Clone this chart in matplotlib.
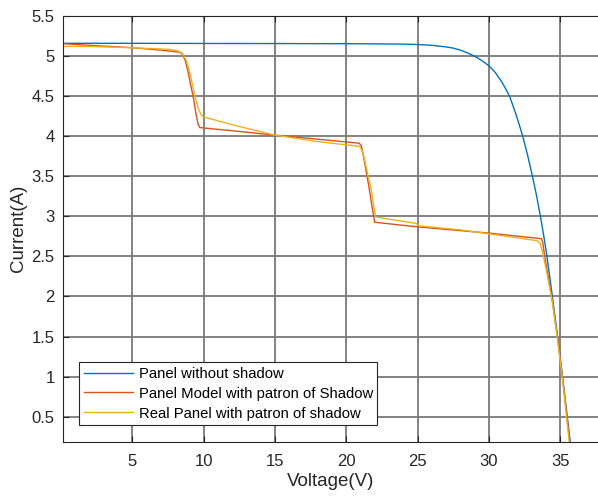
import matplotlib
matplotlib.use("Agg")
import matplotlib.pyplot as plt

plt.rcParams['font.family'] = ['Liberation Sans', 'DejaVu Sans']

# Panel without shadow
v_clear = [0.13, 5, 10, 15, 20, 22, 24, 25, 26, 27, 27.5, 28, 28.5, 29, 29.5, 30,
           30.45, 30.88, 31.2, 31.46, 31.9, 32.35, 32.7, 33.05, 33.33, 33.61, 33.84,
           34.07, 34.45, 34.82, 35.26, 35.7, 35.85]
i_clear = [5.155, 5.155, 5.153, 5.152, 5.15, 5.148, 5.145, 5.14, 5.13, 5.11, 5.095,
           5.07, 5.035, 4.995, 4.94, 4.875, 4.79, 4.68, 4.58, 4.49, 4.27, 4.01, 3.77,
           3.50, 3.265, 3.00, 2.76, 2.50, 2.0, 1.49, 0.85, 0.19, 0.0]

# Panel model with shadow pattern
v_model = [0.13, 2, 5, 7, 8.0, 8.3, 8.5, 8.7, 8.9, 9.1, 9.25, 9.45, 9.6, 9.72, 12,
           15, 18, 20.9, 21.05, 21.2, 21.4, 21.6, 21.8, 21.99, 25, 28, 30, 33.68,
           33.78, 33.91, 34.4, 34.82, 35.2, 35.67, 35.8]
i_model = [5.15, 5.13, 5.10, 5.07, 5.05, 5.045, 5.02, 4.94, 4.80, 4.62, 4.50, 4.28,
           4.15, 4.105, 4.065, 4.01, 3.96, 3.91, 3.88, 3.75, 3.55, 3.35, 3.12, 2.925,
           2.867, 2.82, 2.79, 2.72, 2.67, 2.50, 2.00, 1.49, 0.93, 0.19, 0.0]

# Real panel with shadow pattern
v_real = [0.13, 2, 5, 7.6, 8.2, 8.5, 8.8, 9.0, 9.2, 9.37, 9.6, 9.8, 9.95, 12, 15, 18,
          20.94, 21.15, 21.35, 21.55, 21.76, 21.9, 22.06, 24.9, 25.1, 28, 30, 33.4,
          33.6, 33.8, 34.1, 34.45, 34.82, 35.2, 35.63, 35.8]
i_real = [5.117, 5.115, 5.10, 5.08, 5.06, 5.03, 4.93, 4.80, 4.65, 4.50, 4.35, 4.27,
          4.24, 4.14, 4.01, 3.93, 3.87, 3.80, 3.65, 3.48, 3.33, 3.15, 2.99, 2.91,
          2.88, 2.83, 2.78, 2.695, 2.66, 2.52, 2.26, 1.93, 1.45, 0.9, 0.19, 0.0]

labels = ["Panel without shadow", "Panel Model with patron of Shadow",
          "Real Panel with patron of shadow"]
xticks = [5, 10, 15, 20, 25, 30, 35]
yticks = [0.5, 1, 1.5, 2, 2.5, 3, 3.5, 4, 4.5, 5, 5.5]

fig = plt.figure(figsize=(5.98, 4.96), dpi=100)
ax = fig.add_axes([0.1054, 0.1095, 0.8946, 0.8590])

ax.plot(v_clear, i_clear, color='#0072BD', lw=1.0, label=labels[0])
ax.plot(v_model, i_model, color='#D95319', lw=1.0, label=labels[1])
ax.plot(v_real, i_real, color='#EDB120', lw=1.0, label=labels[2])

ax.set_xlim(0.13, 37.65)
ax.set_ylim(0.19, 5.5)
ax.set_xticks(xticks)
ax.set_xticklabels([str(t) for t in xticks])
ax.set_yticks(yticks)
ax.set_yticklabels([f"{t:g}" for t in yticks])
ax.grid(True, color='#7a7a7a', lw=1.3)
ax.set_axisbelow(True)
ax.tick_params(direction='in', top=True, right=False, labelsize=12,
               colors='#262626', length=4, width=0.8)
ax.tick_params(axis='x', pad=9)
ax.tick_params(axis='y', pad=6)
ax.spines['right'].set_visible(False)
for s in ax.spines.values():
    s.set_color('#262626')
    s.set_linewidth(0.8)

ax.set_xlabel("Voltage(V)", fontsize=13.5, color='#262626', labelpad=3)
ax.set_ylabel("Current(A)", fontsize=13.5, color='#262626', labelpad=3)

leg = ax.legend(loc='lower left', bbox_to_anchor=(0.0305, 0.039), borderaxespad=0,
                fontsize=10.7, frameon=True, fancybox=False, framealpha=1,
                edgecolor='#262626', handlelength=3.3, handletextpad=0.4,
                labelspacing=0.4, borderpad=0.3)
leg.get_frame().set_linewidth(0.8)

fig.savefig("out.png", dpi=100)
